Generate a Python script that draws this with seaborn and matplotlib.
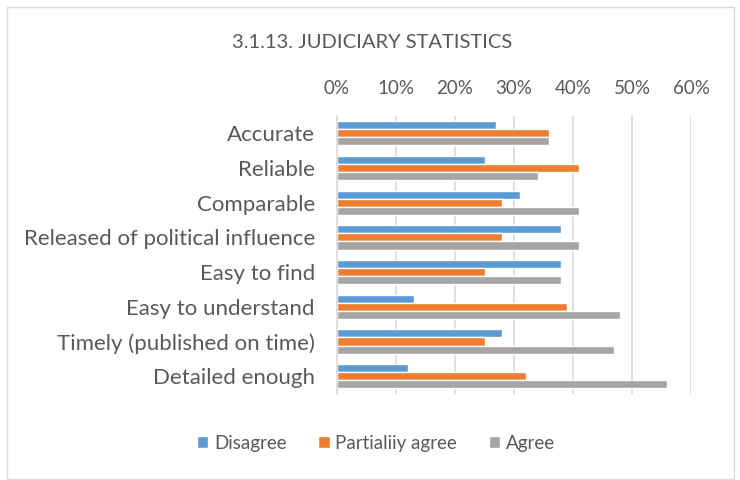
import numpy as np
import pandas as pd
import matplotlib
matplotlib.use('Agg')
import matplotlib.pyplot as plt
import seaborn as sns
from matplotlib.patches import Rectangle
from matplotlib.ticker import PercentFormatter

# data
categories = ['Accurate', 'Reliable', 'Comparable', 'Released of political influence',
              'Easy to find', 'Easy to understand', 'Timely (published on time)',
              'Detailed enough']
disagree = [27, 25, 31, 38, 38, 13, 28, 12]
partially_agree = [36, 41, 28, 28, 25, 39, 25, 32]
agree = [36, 34, 41, 41, 38, 48, 47, 56]
series_names = ['Disagree', 'Partialiiy agree', 'Agree']

COLORS = ['#5b9bd5', '#ed7d31', '#a5a5a5']
TEXT = '#595959'

sns.set_theme(style='white')
plt.rcParams['font.family'] = ['Lato', 'DejaVu Sans']

df = pd.DataFrame({
    'category': categories * 3,
    'value': disagree + partially_agree + agree,
    'series': [series_names[0]] * 8 + [series_names[1]] * 8 + [series_names[2]] * 8,
})

fig = plt.figure(figsize=(7.4, 4.8), dpi=100)
ax = fig.add_axes([337 / 740, 1 - 393.5 / 480, 354 / 740, (393.5 - 116) / 480])

sns.barplot(data=df, x='value', y='category', hue='series', hue_order=series_names,
            order=categories, palette=COLORS, width=0.7, saturation=1,
            orient='h', ax=ax, legend=True)

ax.set_xlim(0, 60)
ax.set_xticks(np.arange(0, 61, 10))
ax.xaxis.set_major_formatter(PercentFormatter(decimals=0))
ax.xaxis.tick_top()
ax.tick_params(axis='x', length=0, pad=14, labelsize=13.5, labelcolor=TEXT)
ax.tick_params(axis='y', length=0, pad=16, labelsize=16, labelcolor=TEXT)
ax.grid(axis='x', color='#d9d9d9', linewidth=1.2)
ax.set_axisbelow(True)
for s in ['top', 'right', 'bottom']:
    ax.spines[s].set_visible(False)
ax.spines['left'].set_color('#d9d9d9')
ax.spines['left'].set_linewidth(1.2)
ax.set_xlabel('')
ax.set_ylabel('')
ax.set_ylim(7.5, -0.5)

handles, labels = ax.get_legend_handles_labels()
ax.get_legend().remove()
fig.legend(handles, labels, loc='center', bbox_to_anchor=(376 / 740, 1 - 443 / 480),
           ncol=3, frameon=False, fontsize=13.5, labelcolor=TEXT,
           handlelength=0.6, handleheight=0.6, handletextpad=0.3, columnspacing=1.7)

fig.text(372 / 740, 1 - 43 / 480, '3.1.13. JUDICIARY STATISTICS', ha='center', va='center',
         fontsize=14.5, color=TEXT)

fig.patches.append(Rectangle((6.5 / 740, 1 / 480), 727 / 740, 472 / 480,
                             transform=fig.transFigure, fill=False,
                             edgecolor='#d9d9d9', linewidth=1))

fig.savefig('out.png', dpi=100)
